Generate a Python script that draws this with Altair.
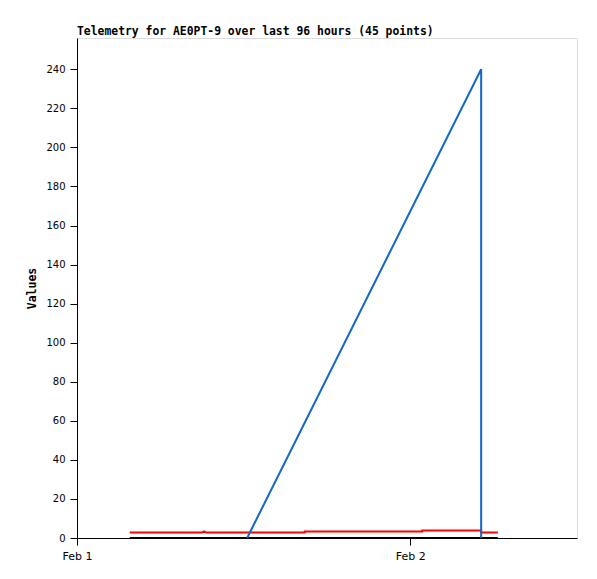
import altair as alt
import pandas as pd

# hours after 2024-02-01 00:00
blue_hours = [12.25, 29.1, 29.1]
blue_vals = [0, 240, 0]

red_hours = [3.8, 9.0, 9.15, 9.3, 16.4, 16.4, 24.85, 24.85, 29.1, 29.1, 30.3]
red_vals = [2.8, 2.8, 3.4, 2.8, 2.8, 3.3, 3.3, 3.9, 3.9, 2.8, 2.8]

black_hours = [3.8, 30.3]
black_vals = [0, 0]

base = pd.Timestamp("2024-02-01 00:00")

def frame(hours, vals, name):
    return pd.DataFrame({
        "time": [base + pd.Timedelta(hours=h) for h in hours],
        "value": vals,
        "order": list(range(len(hours))),
        "series": name,
    })

df_red = frame(red_hours, red_vals, "red")
df_black = frame(black_hours, black_vals, "black")
df_blue = frame(blue_hours, blue_vals, "blue")

x_domain = [alt.DateTime(year=2024, month=2, date=1, hours=0),
            alt.DateTime(year=2024, month=2, date=2, hours=12)]
x_ticks = [alt.DateTime(year=2024, month=2, date=1),
           alt.DateTime(year=2024, month=2, date=2)]

x_enc = alt.X("time:T", scale=alt.Scale(domain=x_domain),
              axis=alt.Axis(values=x_ticks, format="%b %-d", title=None,
                            grid=False, tickSize=7, labelPadding=5, labelFlush=False,
                            labelFont="DejaVu Sans", labelFontSize=11,
                            labelColor="black", domainColor="black", tickColor="black"))
y_enc = alt.Y("value:Q", scale=alt.Scale(domain=[0, 256], nice=False),
              axis=alt.Axis(values=list(range(0, 241, 20)), title="Values",
                            grid=False, tickSize=7, labelPadding=5,
                            labelFont="DejaVu Sans", labelFontSize=10,
                            labelColor="black", domainColor="black", tickColor="black",
                            titleFont="DejaVu Sans Mono", titleFontSize=11.5,
                            titleFontWeight="bold", titleX=-45, titleY=250,
                            titleAngle=-90, titleAlign="center", titleBaseline="middle"))

def line(df, color):
    return alt.Chart(df).mark_line(color=color, strokeWidth=2, clip=True).encode(
        x=x_enc, y=y_enc, order="order:Q")

chart = alt.layer(
    line(df_red, "#ff0000"),
    line(df_black, "#000000"),
    line(df_blue, "#1166cc"),
).properties(
    width=500, height=500,
    autosize=alt.AutoSizeParams(type="none"),
    padding={"left": 69, "top": 30, "right": 10, "bottom": 30},
    title=alt.TitleParams("Telemetry for AE0PT-9 over last 96 hours (45 points)",
                          anchor="start", frame="group", font="DejaVu Sans Mono",
                          fontSize=11.4, fontWeight="bold", color="black", offset=1),
).configure_view(stroke="#444444", strokeWidth=1.5).configure(background="white")

chart.save("out.html", embed_options={"renderer": "svg", "actions": False})
